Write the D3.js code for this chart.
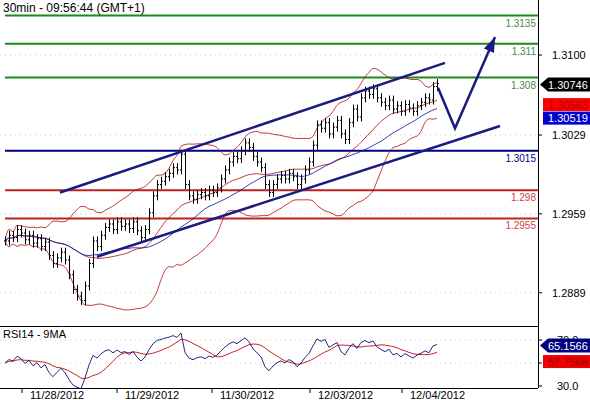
<!DOCTYPE html>
<html><head><meta charset="utf-8">
<script src="https://cdn.jsdelivr.net/npm/d3@7"></script>
<style>body{margin:0;background:#fff}svg{font-family:"Liberation Sans",Arial,sans-serif}</style>
</head><body><svg id="c" width="590" height="400"></svg>
<script>
// 30min closes, oldest first
const closes = [1.2935,1.2940,1.2938,1.2945,1.2942,1.2936,1.2940,1.2933,1.2937,1.2930,1.2934,1.2922,1.2915,1.2920,1.2925,1.2918,1.2905,1.2892,1.2886,1.2882,
1.2895,1.2915,1.2935,1.2930,1.2940,1.2947,1.2950,1.2945,1.2952,1.2948,1.2950,1.2946,1.2952,1.2944,1.2938,1.2945,1.2960,1.2975,1.2985,1.2988,
1.2992,1.2995,1.3000,1.2998,1.3012,1.2985,1.2975,1.2972,1.2976,1.2978,1.2975,1.2980,1.2978,1.2982,1.2990,1.2998,1.3005,1.3010,1.3008,1.3015,
1.3022,1.3018,1.3010,1.3005,1.3000,1.2985,1.2978,1.2985,1.2990,1.2993,1.2990,1.2995,1.2992,1.2985,1.2990,1.2998,1.3005,1.3020,1.3038,1.3035,
1.3040,1.3030,1.3036,1.3042,1.3030,1.3025,1.3040,1.3052,1.3045,1.3062,1.3068,1.3065,1.3070,1.3062,1.3058,1.3055,1.3060,1.3052,1.3055,1.3050,
1.3056,1.3053,1.3050,1.3055,1.3058,1.3062,1.3060,1.3072,1.30746];
const priceTicks = [1.3100,1.3029,1.2959,1.2889];
const greenLevels = [1.3135,1.311,1.308];
const blueLevels = [1.3015];
const redLevels = [1.298,1.2955];
const upperChannel = [[13.75,1.2978],[110,1.3093]];
const lowerChannel = [[23,1.2921],[123.75,1.3037]];
const forecast = [[108.25,1.3071],[112.5,1.3035],[122.5,1.3116]];
const dateLabels = [["11/28/2012",4.25],["11/29/2012",28],["11/30/2012",51.75],["12/03/2012",76.25],["12/04/2012",99.25]];
const priceTags = [["1.30746",1.30746,"#000","#fff"],["1.30563",1.3056,"#f00","#a00"],["1.30519",1.3052,"#0000d0","#fff"]];
const rsiTicks = [70,50,30];
const rsiTags = [["65.1566",65.16,"#000080","#fff"],["57.7568",57.76,"#e00","#900"]];

const svg = d3.select("#c");
const R = 538, mainBot = 326, rsiBot = 388;
const x = d3.scaleLinear().domain([0,1]).range([5,9]);
const y = d3.scaleLinear().domain([1.3100,1.3029]).range([55,135]);
const yr = d3.scaleLinear().domain([70,30]).range([340,386]);

const sma = (a,n,i)=>d3.mean(a.slice(Math.max(0,i-n+1),i+1));
const sd = (a,n,i)=>{const s=a.slice(Math.max(0,i-n+1),i+1);return s.length>1?d3.deviation(s):0;};

const main = svg.append("g");
main.append("clipPath").attr("id","mc").append("rect").attr("x",0).attr("y",0).attr("width",R).attr("height",mainBot);
const g = main.append("g").attr("clip-path","url(#mc)");

g.selectAll(".gr").data(priceTicks).join("line").attr("x1",0).attr("x2",R)
 .attr("y1",d=>y(d)).attr("y2",d=>y(d)).attr("stroke","#ccc").attr("stroke-dasharray","1,4");

const lev = (arr,col,lab)=>{
 g.selectAll(null).data(arr).join("line").attr("x1",5).attr("x2",R).attr("y1",d=>y(d)).attr("y2",d=>y(d))
  .attr("stroke",col).attr("stroke-width",2);
 g.selectAll(null).data(arr).join("text").attr("x",R-2).attr("y",d=>y(d)+11).attr("text-anchor","end")
  .attr("font-size",10).attr("fill",lab).text(d=>String(d));
};
lev(greenLevels,"#1a8a1a","#4a8a4a");
lev(blueLevels,"#000080","#000080");
lev(redLevels,"#b22","#c44");

// bollinger + ma
const idx = d3.range(closes.length);
const bbN=20, maN=30;
const line = d3.line().x(d=>x(d[0])).y(d=>y(d[1])).curve(d3.curveMonotoneX);
const mid = idx.map(i=>[i,sma(closes,bbN,i)]);
const up = idx.map(i=>[i,sma(closes,bbN,i)+2.2*sd(closes,bbN,i)]);
const dn = idx.map(i=>[i,sma(closes,bbN,i)-2.2*sd(closes,bbN,i)]);
const ma = idx.map(i=>[i,sma(closes,maN,i)]);
[up,dn,mid].forEach(s=>g.append("path").attr("d",line(s)).attr("fill","none").attr("stroke","#b01010").attr("stroke-width",0.8));
g.append("path").attr("d",line(ma)).attr("fill","none").attr("stroke","#1010a0").attr("stroke-width",0.8);

const bars = g.append("g").attr("stroke","#000");
closes.forEach((c,i)=>{
 const o = i? closes[i-1] : c;
 const hi = Math.max(o,c)+0.0004, lo = Math.min(o,c)-0.0004;
 const xx = Math.round(x(i))+0.5;
 bars.append("line").attr("x1",xx).attr("x2",xx).attr("y1",y(hi)).attr("y2",y(lo));
 bars.append("line").attr("x1",xx-1.5).attr("x2",xx).attr("y1",y(o)).attr("y2",y(o));
 bars.append("line").attr("x1",xx).attr("x2",xx+1.5).attr("y1",y(c)).attr("y2",y(c));
});

const sl = d3.line().x(d=>x(d[0])).y(d=>y(d[1]));
[upperChannel,lowerChannel,forecast].forEach(s=>g.append("path").attr("d",sl(s)).attr("stroke","#1a1a80").attr("stroke-width",2.5).attr("fill","none"));
const pe = forecast[2], pb = forecast[1];
const ax = x(pe[0]), ay = y(pe[1]), ang = Math.atan2(ay-y(pb[1]), ax-x(pb[0]));
const hp = (l,a)=>[ax-l*Math.cos(ang+a), ay-l*Math.sin(ang+a)];
g.append("polygon").attr("points",[[ax,ay],hp(16,0.35),hp(16,-0.35)].map(p=>p.join(",")).join(" ")).attr("fill","#1a1a80");

svg.append("text").attr("x",3).attr("y",12).attr("font-size",12).text("30min - 09:56:44 (GMT+1)");

svg.append("line").attr("x1",R+0.5).attr("x2",R+0.5).attr("y1",0).attr("y2",rsiBot).attr("stroke","#000");
[mainBot,rsiBot].forEach(v=>svg.append("line").attr("x1",0).attr("x2",R).attr("y1",v+0.5).attr("y2",v+0.5).attr("stroke","#000"));

svg.selectAll(".pt").data(priceTicks).join("g").each(function(d){
 const s=d3.select(this);
 s.append("line").attr("x1",R).attr("x2",R+4).attr("y1",y(d)).attr("y2",y(d)).attr("stroke","#000");
 s.append("text").attr("x",552).attr("y",y(d)+4).attr("font-size",11).text(d.toFixed(4));
});
const tag = (t,yy,bg,fg,arrow)=>{
 const gg=svg.append("g");
 if(arrow) gg.append("polygon").attr("points",`${R+2},${yy} ${R+10},${yy-7} 590,${yy-7} 590,${yy+7} ${R+10},${yy+7}`).attr("fill",bg);
 else gg.append("rect").attr("x",R+5).attr("y",yy-6.5).attr("width",47).attr("height",13).attr("fill",bg);
 gg.append("text").attr("x",R+10).attr("y",yy+4).attr("font-size",11).attr("fill",fg).text(t);
};
const placeTags = (arr,sc)=>{
 let last=-1e9;
 arr.forEach((p,i)=>{let yy=sc(p[1])+(i?0:1); if(i===1) yy=Math.max(yy,last+20); else if(i>1) yy=Math.max(yy,last+13.5); tag(p[0],yy,p[2],p[3],i===0); last=yy;});
};
placeTags(priceTags,y);

// RSI (Wilder)
const ch = idx.map(i=>i?closes[i]-closes[i-1]:0);
let ag=0, al=0;
const rsi = idx.map(i=>{
 const gn=Math.max(ch[i],0), ls=Math.max(-ch[i],0);
 ag = i? (ag*13+gn)/14 : 0.0003; al = i? (al*13+ls)/14 : 0.0003;
 return 100*ag/(ag+al);
});
const rma = idx.map(i=>sma(rsi,9,i));
const rl = d3.line().x((d,i)=>x(i)).y(d=>yr(Math.max(24,Math.min(84,d))));
svg.selectAll(".rg").data([70,50]).join("line").attr("x1",0).attr("x2",R).attr("y1",d=>yr(d)).attr("y2",d=>yr(d)).attr("stroke","#ccc").attr("stroke-dasharray","1,4");
svg.append("path").attr("d",rl(rma)).attr("fill","none").attr("stroke","#c01010").attr("stroke-width",0.9);
svg.append("path").attr("d",rl(rsi)).attr("fill","none").attr("stroke","#101070").attr("stroke-width",0.9);
svg.append("text").attr("x",3).attr("y",338).attr("font-size",11).attr("stroke","#fff").attr("stroke-width",3).attr("paint-order","stroke").text("RSI14 - 9MA");
rsiTicks.forEach(d=>{
 svg.append("line").attr("x1",R).attr("x2",R+4).attr("y1",yr(d)).attr("y2",yr(d)).attr("stroke","#000");
 if(d!==50) svg.append("text").attr("x",557).attr("y",yr(d)+4).attr("font-size",11).text(d.toFixed(1));
});
rsiTags.forEach((p,i)=>tag(p[0],i?Math.max(yr(p[1]),yr(rsiTags[0][1])+16):yr(p[1]),p[2],p[3],i===0));

dateLabels.forEach(([t,i])=>{
 svg.append("line").attr("x1",x(i)).attr("x2",x(i)).attr("y1",rsiBot).attr("y2",rsiBot+5).attr("stroke","#000");
 svg.append("text").attr("x",x(i)+8).attr("y",399).attr("font-size",11).text(t);
});
</script></body></html>
